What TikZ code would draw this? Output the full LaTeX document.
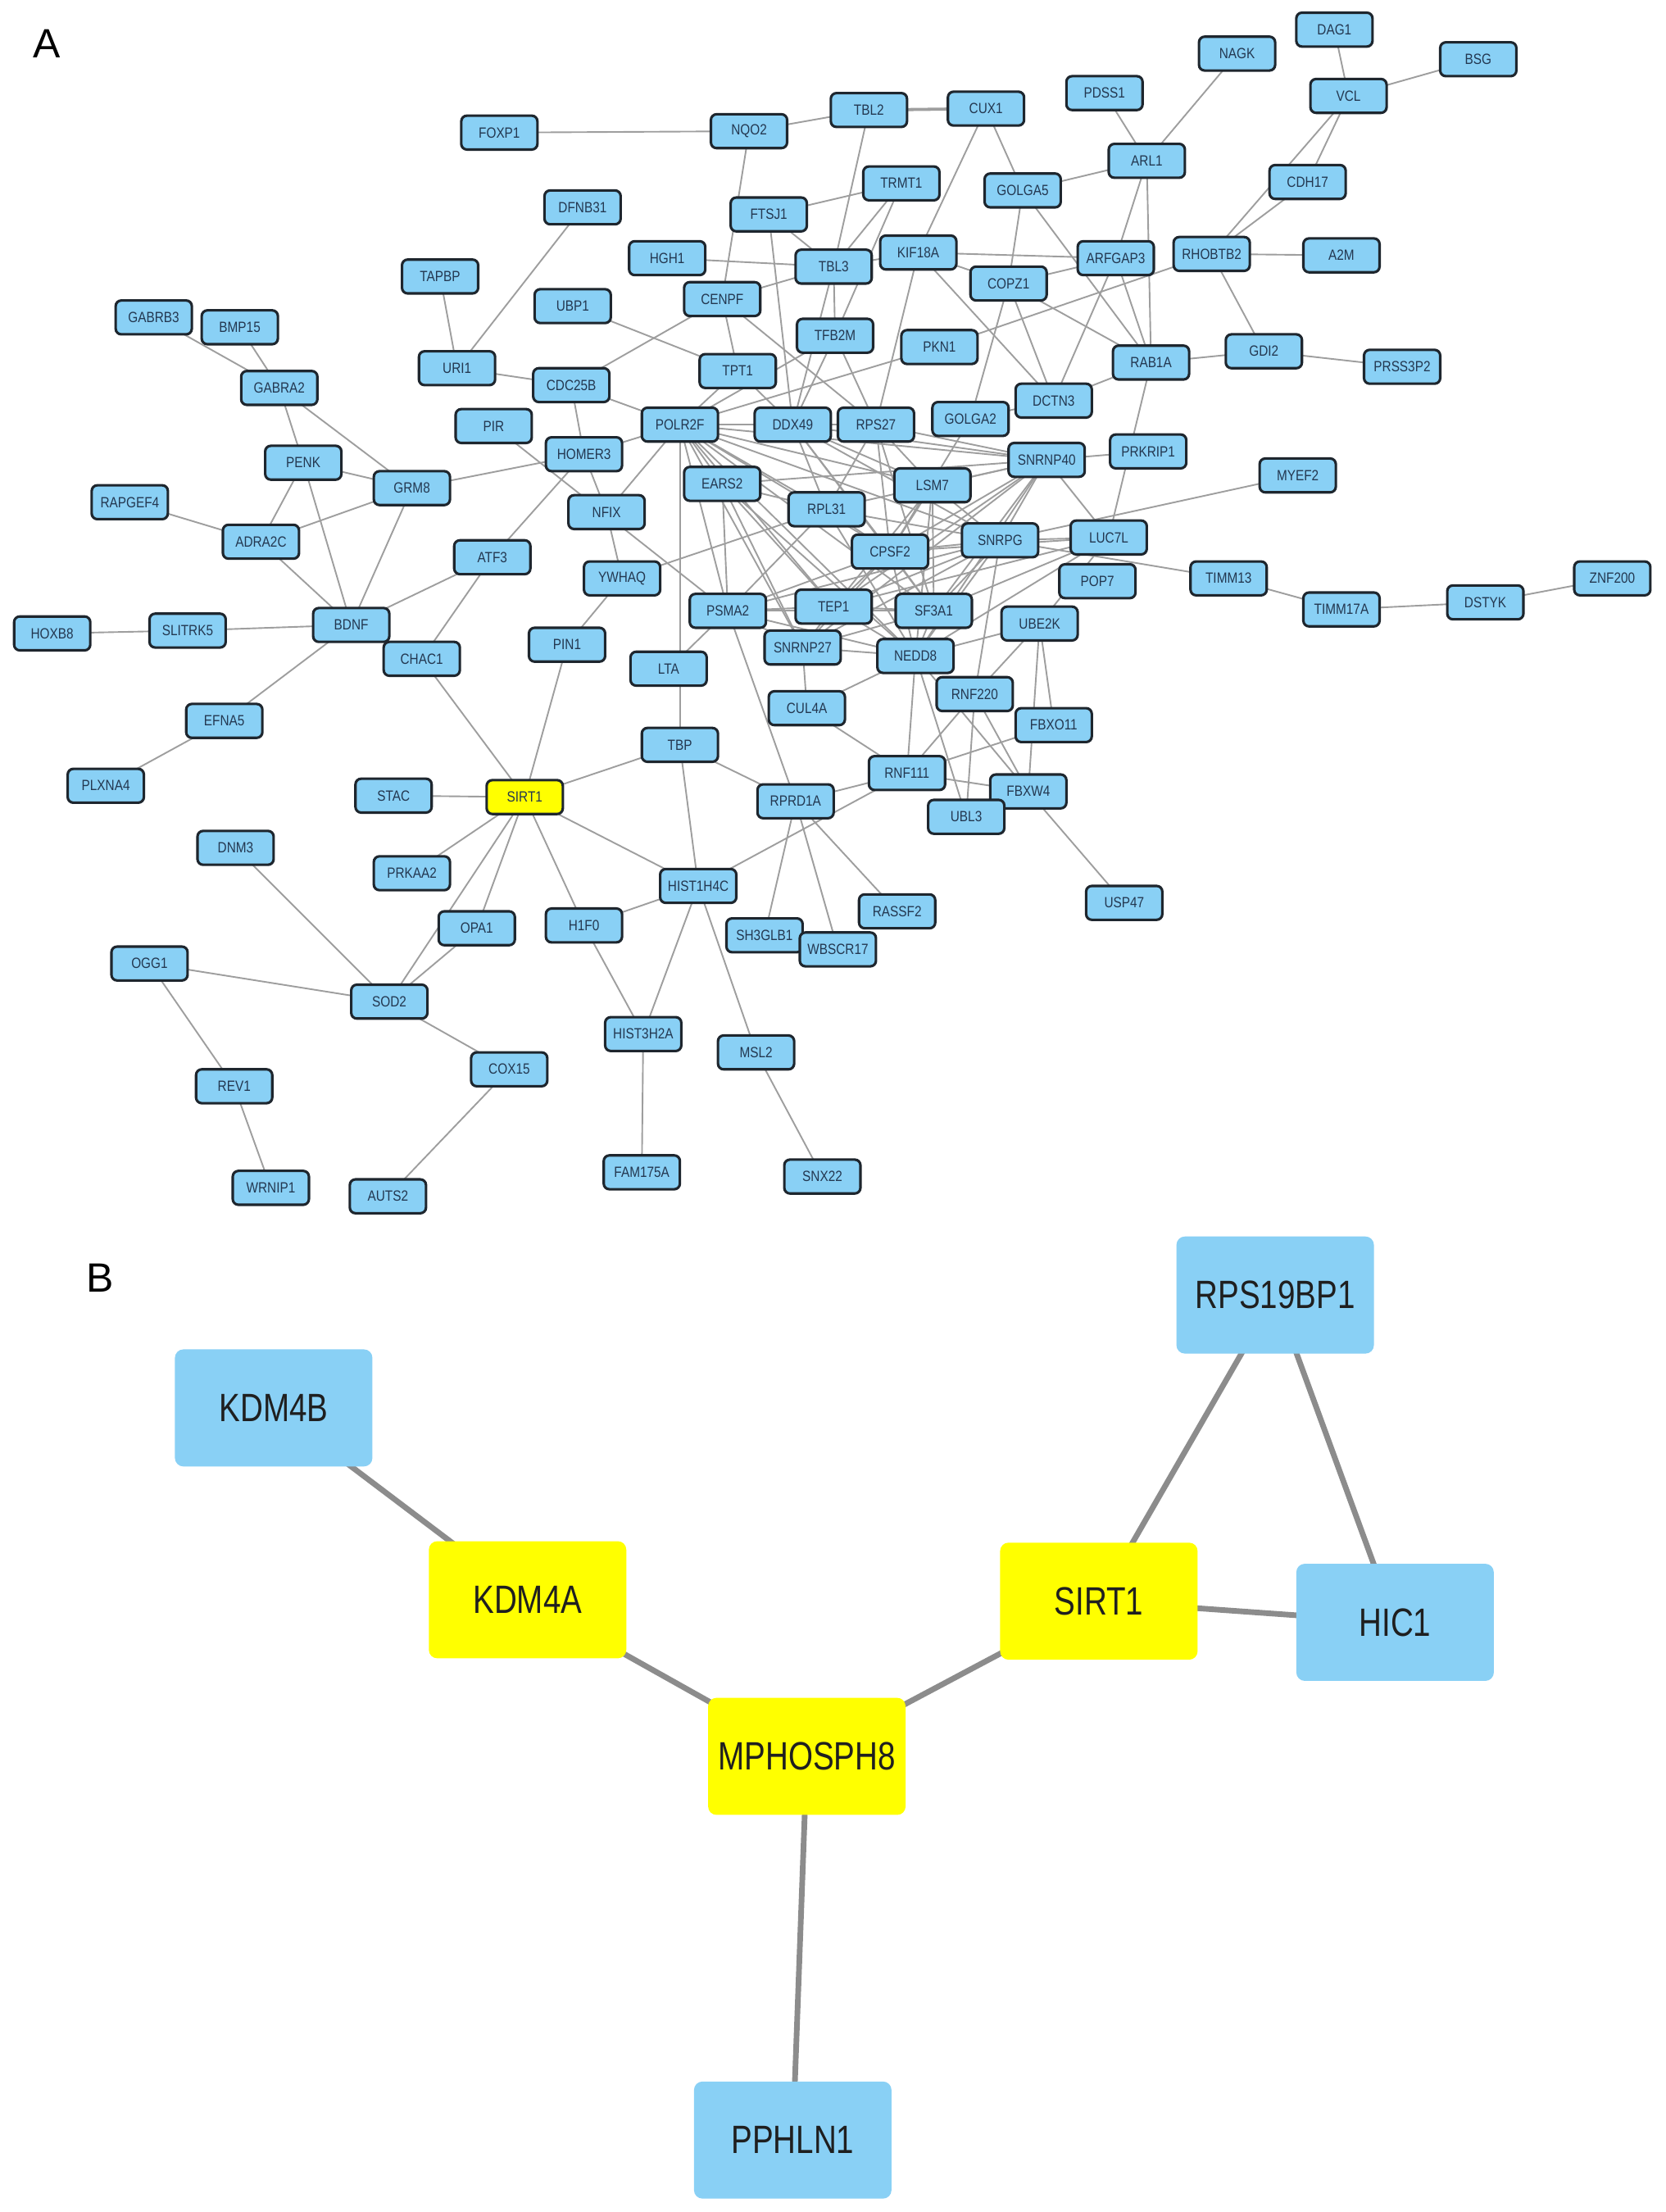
\documentclass[tikz,border=0pt]{standalone}
\usepackage{fontspec}
\setmainfont{Liberation Sans}
\newfontfamily\nodefont[FakeStretch=0.85]{Liberation Sans}
\newfontfamily\bigfont[FakeStretch=0.80]{Liberation Sans}
\usetikzlibrary{backgrounds}
\definecolor{nodeblue}{RGB}{137,208,245}
\definecolor{nodeyel}{RGB}{255,255,0}
\definecolor{bordr}{RGB}{30,38,46}
\definecolor{edgegray}{RGB}{158,158,158}
\definecolor{edgegrayB}{RGB}{140,140,140}
\definecolor{txtA}{RGB}{35,55,80}
\tikzset{
  gA/.style={draw=bordr, line width=1.8pt, fill=nodeblue, rounded corners=4pt,
    minimum width=54pt, minimum height=24pt, inner sep=0pt,
    font=\nodefont\fontsize{10.5}{10.5}\selectfont, text=txtA},
  gAy/.style={gA, fill=nodeyel},
  gB/.style={fill=nodeblue, rounded corners=6pt, minimum width=140pt,
    minimum height=83pt, inner sep=0pt,
    font=\bigfont\fontsize{28}{28}\selectfont, text=black!88},
  gBy/.style={gB, fill=nodeyel},
  eA/.style={draw=edgegray, line width=1.1pt},
  eAthick/.style={draw=edgegray, line width=2.2pt},
  eB/.style={draw=edgegrayB, line width=4pt},
  panel/.style={font=\fontsize{29}{29}\selectfont, inner sep=0pt}
}
\begin{document}
\begin{tikzpicture}[x=1pt,y=-1pt]
\useasboundingbox (0,0) rectangle (1181,1568);
\node[panel] (labA) at (33,31) {A};
\node[panel] (labB) at (71,906) {B};
% ---------- panel A nodes ----------
\foreach \n/\x/\y in {
FOXP1/354/94, NQO2/531/93, TBL2/616/78, CUX1/699/77, PDSS1/783/66, NAGK/877/38,
DAG1/946/21, BSG/1048/42, VCL/956/68, ARL1/813/114, CDH17/927/129, TRMT1/639/130,
GOLGA5/725/135, DFNB31/413/147, FTSJ1/545/152, HGH1/473/183, TBL3/591/189,
KIF18A/651/179, ARFGAP3/791/183, RHOBTB2/859/180, A2M/951/181, TAPBP/312/196,
UBP1/406/217, CENPF/512/212, COPZ1/715/201, GABRB3/109/225, BMP15/170/232,
TFB2M/592/238, PKN1/666/246, GDI2/896/249, PRSS3P2/994/260, RAB1A/816/257,
URI1/324/261, TPT1/523/263, CDC25B/405/273, GABRA2/198/275, DCTN3/747/284,
GOLGA2/688/297, PIR/350/302, POLR2F/482/301, DDX49/562/301, RPS27/621/301,
HOMER3/414/322, PRKRIP1/814/320, SNRNP40/742/326, PENK/215/328, MYEF2/920/337,
GRM8/292/346, EARS2/512/343, LSM7/661/344, RAPGEF4/92/356, NFIX/430/363,
RPL31/586/361, ADRA2C/185/384, LUC7L/786/381, SNRPG/709/383, CPSF2/631/391,
ATF3/349/395, YWHAQ/441/410, POP7/778/412, TIMM13/871/410, TIMM17A/951/432,
DSTYK/1053/427, ZNF200/1143/410, TEP1/591/430, PSMA2/516/433, SF3A1/662/433,
UBE2K/737/442, HOXB8/37/449, SLITRK5/133/447, BDNF/249/443, PIN1/402/457,
SNRNP27/569/459, NEDD8/649/465, CHAC1/299/467, LTA/474/474, RNF220/691/492,
CUL4A/572/502, EFNA5/159/511, FBXO11/747/514, TBP/482/528, RNF111/643/548,
PLXNA4/75/557, STAC/279/564, FBXW4/729/561, RPRD1A/564/568, UBL3/685/579,
DNM3/167/601, PRKAA2/292/619, HIST1H4C/495/628, RASSF2/636/646, USP47/797/640,
OPA1/338/658, H1F0/414/656, SH3GLB1/542/663, WBSCR17/594/673, OGG1/106/683,
SOD2/276/710, HIST3H2A/456/733, MSL2/536/746, COX15/361/758, REV1/166/770,
FAM175A/455/831, SNX22/583/834, WRNIP1/192/842, AUTS2/275/848}
  \node[gA] (\n) at (\x,\y) {\n};
\node[gAy] (SIRT1) at (372,565) {SIRT1};
% ---------- panel B nodes ----------
\node[gB] (bRPS) at (904,918) {RPS19BP1};
\node[gB] (bKDM4B) at (194,998) {KDM4B};
\node[gBy] (bKDM4A) at (374,1134) {KDM4A};
\node[gBy] (bSIRT1) at (779,1135) {SIRT1};
\node[gB] (bHIC1) at (989,1150) {HIC1};
\node[gBy] (bMPH) at (572,1245) {MPHOSPH8};
\node[gB] (bPPH) at (562,1517) {PPHLN1};
% ---------- edges ----------
\begin{scope}[on background layer]
\fill[white] (0,0) rectangle (1181,1568);
\draw[eAthick] (TBL2.center) -- (CUX1.center);
\foreach \a/\b in {
FOXP1/NQO2, NQO2/TBL2, NQO2/CENPF, TBL2/TBL3, CUX1/KIF18A, CUX1/GOLGA5,
PDSS1/ARL1, NAGK/ARL1, GOLGA5/ARL1, DAG1/VCL, VCL/BSG, VCL/CDH17, VCL/RHOBTB2,
CDH17/RHOBTB2, RHOBTB2/A2M, RHOBTB2/GDI2, GDI2/RAB1A, GDI2/PRSS3P2, ARL1/ARFGAP3,
ARL1/RAB1A, TRMT1/FTSJ1, TRMT1/TBL3, TRMT1/TFB2M, FTSJ1/TBL3, FTSJ1/DDX49, HGH1/TBL3,
CENPF/TBL3, CENPF/TPT1, CENPF/CDC25B, CENPF/RPS27, UBP1/TPT1, KIF18A/TBL3,
KIF18A/ARFGAP3, KIF18A/COPZ1, KIF18A/DCTN3, KIF18A/RPS27, GOLGA5/COPZ1, GOLGA5/RAB1A,
COPZ1/ARFGAP3, COPZ1/GOLGA2, COPZ1/DCTN3, COPZ1/RAB1A, ARFGAP3/DCTN3, ARFGAP3/RAB1A,
DCTN3/RAB1A, GOLGA2/DCTN3, TBL3/TFB2M, TBL3/DDX49, TFB2M/DDX49, TFB2M/RPS27,
TFB2M/POLR2F, TPT1/DDX49, TPT1/POLR2F, POLR2F/PKN1, PKN1/RHOBTB2, RAB1A/LUC7L,
SNRNP40/PRKRIP1, MYEF2/SNRPG, TIMM13/SNRPG, TIMM13/TIMM17A, TIMM17A/DSTYK, DSTYK/ZNF200,
DFNB31/URI1, TAPBP/URI1, URI1/CDC25B, GABRB3/GABRA2, BMP15/GABRA2, GABRA2/PENK,
GABRA2/GRM8, CDC25B/HOMER3, CDC25B/POLR2F, PENK/GRM8, PENK/ADRA2C, PENK/BDNF,
GRM8/ADRA2C, GRM8/BDNF, GRM8/HOMER3, RAPGEF4/ADRA2C, ADRA2C/BDNF, PIR/PSMA2,
HOMER3/ATF3, HOMER3/NFIX, HOMER3/POLR2F, ATF3/BDNF, ATF3/CHAC1, BDNF/CHAC1,
BDNF/SLITRK5, SLITRK5/HOXB8, BDNF/EFNA5, EFNA5/PLXNA4, CHAC1/SIRT1, PIN1/SIRT1,
PIN1/YWHAQ, NFIX/YWHAQ, POLR2F/NFIX, YWHAQ/RPL31, STAC/SIRT1, SIRT1/TBP, SIRT1/PRKAA2,
SIRT1/OPA1, SIRT1/SOD2, SIRT1/H1F0, SIRT1/HIST1H4C, OPA1/SOD2, DNM3/SOD2, OGG1/SOD2,
OGG1/REV1, REV1/WRNIP1, SOD2/COX15, COX15/AUTS2, TBP/HIST1H4C, H1F0/HIST1H4C,
H1F0/HIST3H2A, HIST1H4C/HIST3H2A, HIST1H4C/MSL2, MSL2/SNX22, HIST3H2A/FAM175A,
HIST1H4C/RNF111, RPRD1A/SH3GLB1, RPRD1A/WBSCR17, RPRD1A/RASSF2, FBXW4/USP47,
POLR2F/TBP, TBP/RPRD1A, LTA/PSMA2, PSMA2/RPRD1A,
POLR2F/DDX49, POLR2F/RPS27, POLR2F/SNRNP40, POLR2F/EARS2, POLR2F/RPL31, POLR2F/CPSF2,
POLR2F/SF3A1, POLR2F/NEDD8, POLR2F/LSM7, POLR2F/SNRPG, POLR2F/TEP1, POLR2F/PSMA2,
POLR2F/SNRNP27, DDX49/RPS27, DDX49/RPL31, DDX49/CPSF2, DDX49/SNRNP40, DDX49/SF3A1,
DDX49/LSM7, DDX49/SNRPG, RPS27/SNRNP40, RPS27/CPSF2, RPS27/LSM7, RPS27/SF3A1,
RPS27/RPL31, EARS2/TEP1, EARS2/NEDD8, EARS2/SNRNP40, EARS2/SNRNP27, EARS2/RPL31,
EARS2/PSMA2, RPL31/PSMA2, RPL31/NEDD8, RPL31/CPSF2, RPL31/SNRNP40, RPL31/SNRPG,
GOLGA2/CPSF2, SNRNP40/LSM7, SNRNP40/CPSF2, SNRNP40/SNRPG, SNRNP40/SF3A1, SNRNP40/TEP1,
SNRNP40/SNRNP27, SNRNP40/NEDD8, SNRNP40/LUC7L, SNRPG/CPSF2, SNRPG/LSM7, SNRPG/TEP1,
SNRPG/SF3A1, SNRPG/SNRNP27, SNRPG/NEDD8, SNRPG/PSMA2, SNRPG/RNF220, SNRPG/LUC7L,
LUC7L/CPSF2, LUC7L/SF3A1, LUC7L/TEP1, LUC7L/NEDD8, LUC7L/UBE2K, LSM7/SF3A1, LSM7/CPSF2,
LSM7/TEP1, LSM7/NEDD8, CPSF2/TEP1, CPSF2/SF3A1, CPSF2/SNRNP27, CPSF2/NEDD8, CPSF2/PSMA2,
TEP1/SF3A1, TEP1/PSMA2, TEP1/SNRNP27, TEP1/NEDD8, SF3A1/NEDD8, SF3A1/SNRNP27,
SF3A1/PSMA2, PSMA2/SNRNP27, PSMA2/NEDD8, SNRNP27/NEDD8, SNRNP27/CUL4A, NEDD8/CUL4A,
NEDD8/RNF111, NEDD8/UBL3, NEDD8/UBE2K, NEDD8/FBXW4, UBE2K/RNF220, UBE2K/FBXO11,
UBE2K/FBXW4, RNF220/RNF111, RNF220/FBXW4, RNF220/UBL3, RNF111/FBXW4, RNF111/FBXO11,
RNF111/RPRD1A, CUL4A/RNF111}
  \draw[eA] (\a.center) -- (\b.center);
\foreach \a/\b in {bKDM4B/bKDM4A, bKDM4A/bMPH, bMPH/bSIRT1, bSIRT1/bRPS, bSIRT1/bHIC1,
  bRPS/bHIC1, bMPH/bPPH}
  \draw[eB] (\a.center) -- (\b.center);
\end{scope}
\end{tikzpicture}
\end{document}
